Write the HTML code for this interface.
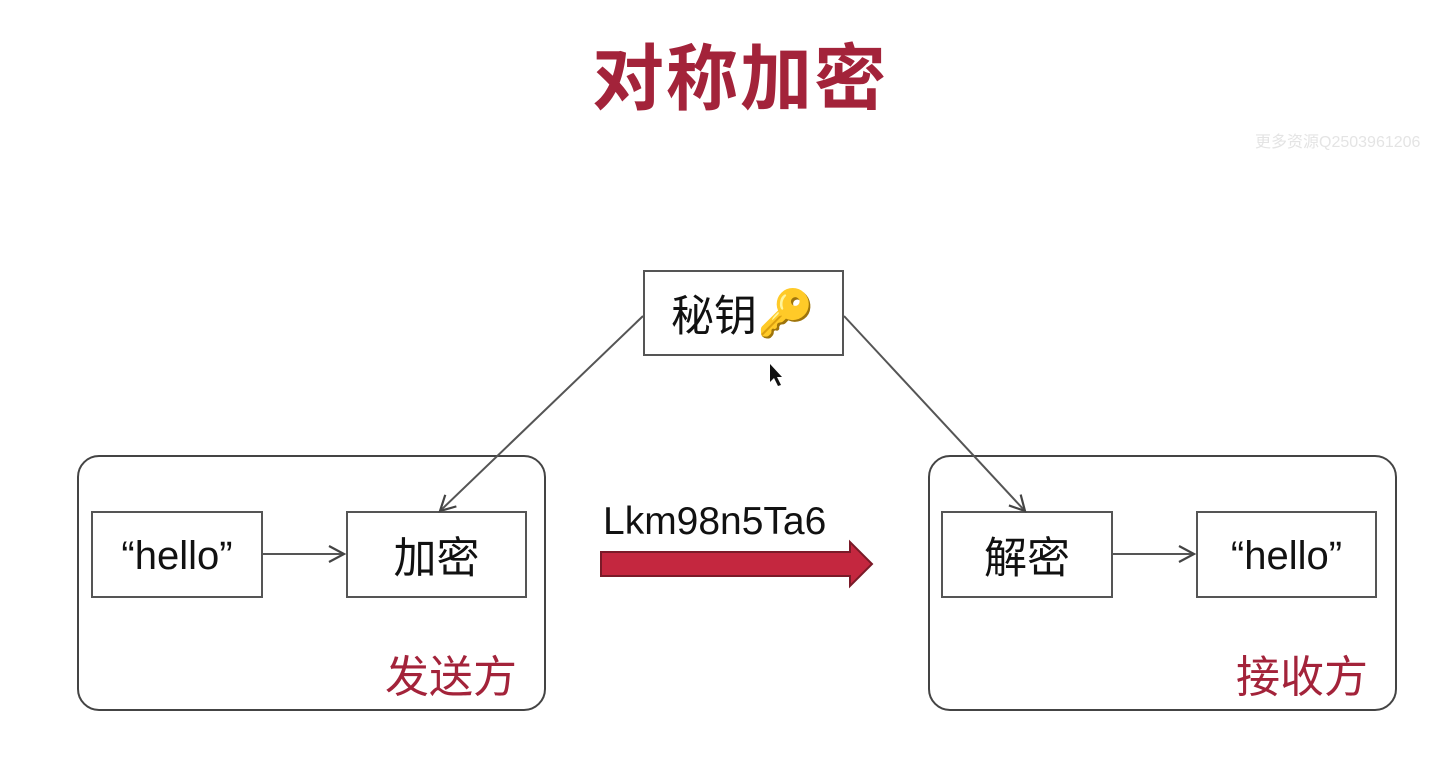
<!DOCTYPE html>
<html><head><meta charset="utf-8"><style>
body{margin:0;width:1442px;height:758px;background:#fff;overflow:hidden;position:relative;font-family:"Liberation Sans","Noto Sans CJK SC",sans-serif}
.a{position:absolute}
.box{position:absolute;border:2px solid #555;background:#fff;display:flex;align-items:center;justify-content:center;font-size:40px;color:#111;box-sizing:border-box}
.cjk{font-size:43px}
.grp{position:absolute;border:2px solid #444;border-radius:22px;box-sizing:border-box}
.red{color:#a3233a}
</style></head><body>
<div class="a red" style="left:592px;top:20px;font-size:72px;font-weight:bold;letter-spacing:2px">对称加密</div>
<div class="a" style="left:1255px;top:128px;font-size:16px;color:#e4e4e4">更多资源Q2503961206</div>
<div class="grp" style="left:77px;top:455px;width:469px;height:256px"></div>
<div class="grp" style="left:928px;top:455px;width:469px;height:256px"></div>
<div class="box cjk" style="left:643px;top:270px;width:201px;height:86px;justify-content:flex-start;padding-left:26px">秘钥<span style="font-size:46px;margin-left:0px">🔑</span></div>
<div class="box" style="left:91px;top:511px;width:172px;height:87px;padding-top:4px">“hello”</div>
<div class="box cjk" style="left:346px;top:511px;width:181px;height:87px">加密</div>
<div class="box cjk" style="left:941px;top:511px;width:172px;height:87px">解密</div>
<div class="box" style="left:1196px;top:511px;width:181px;height:87px;padding-top:4px">“hello”</div>
<div class="a red" style="left:385px;top:641px;font-size:44px">发送方</div>
<div class="a red" style="left:1236px;top:641px;font-size:44px">接收方</div>
<div class="a" style="left:603px;top:500px;font-size:39px;color:#111">Lkm98n5Ta6</div>
<svg class="a" style="left:0;top:0" width="1442" height="758">
<defs><marker id="m" markerWidth="20" markerHeight="20" refX="17" refY="10" orient="auto" markerUnits="userSpaceOnUse"><path d="M2,2 L17,10 L2,18" fill="none" stroke="#444" stroke-width="2.2"/></marker></defs>
<g stroke="#555" stroke-width="2" fill="none">
<line x1="643" y1="316" x2="440" y2="511" marker-end="url(#m)"/>
<line x1="844" y1="316" x2="1025" y2="511" marker-end="url(#m)"/>
<line x1="263" y1="554" x2="344" y2="554" marker-end="url(#m)"/>
<line x1="1113" y1="554" x2="1194" y2="554" marker-end="url(#m)"/>
</g>
<path d="M601,552 L850,552 L850,542 L872,564 L850,586 L850,576 L601,576 Z" fill="#c4273f" stroke="#7a1a28" stroke-width="2"/>
<path d="M770,364 L770,382 L774,378 L778,386 L781,385 L777,377 L782,377 Z" fill="#111"/>
</svg>
</body></html>
